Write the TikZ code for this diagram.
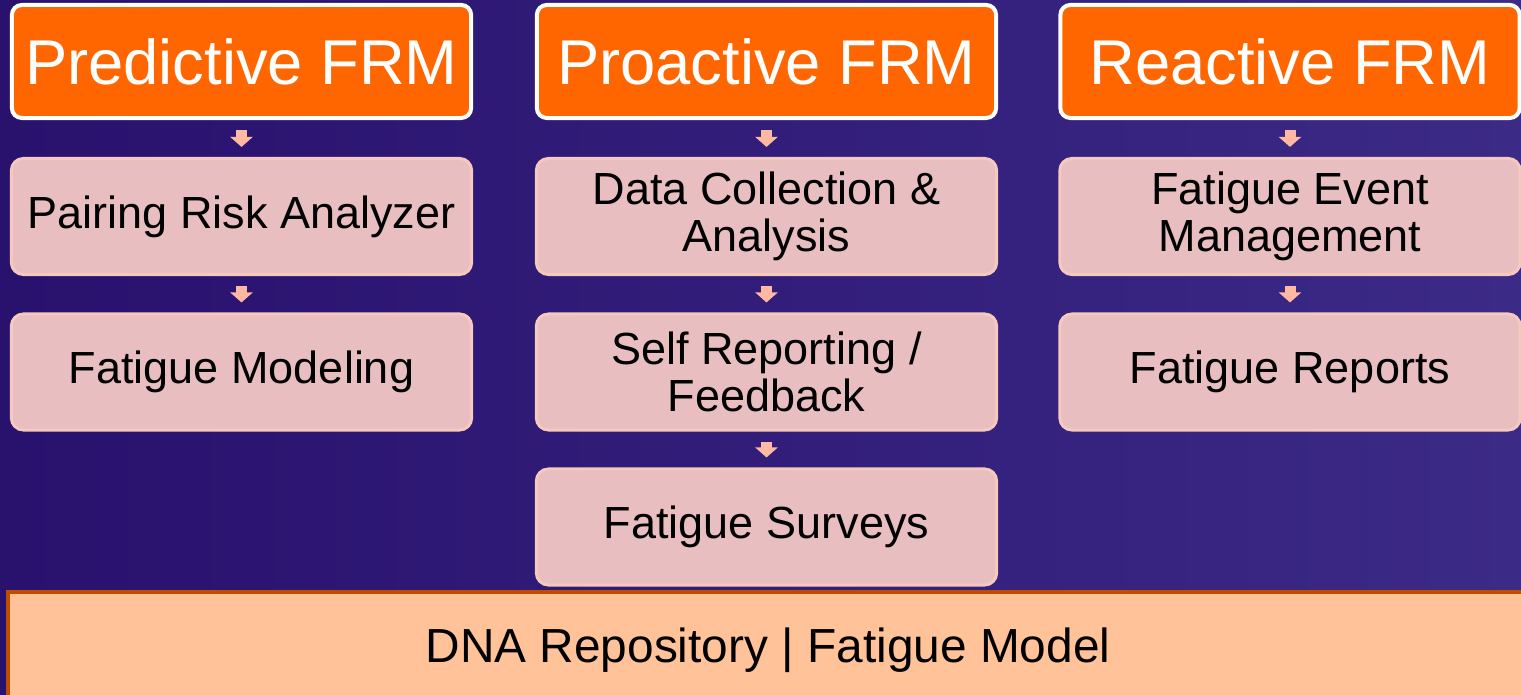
\documentclass[tikz,border=0pt]{standalone}
\usepackage{fontspec}
\setmainfont{Liberation Sans}
\usepackage{tikz}
\usetikzlibrary{calc, positioning, arrows.meta}
\definecolor{frmorange}{HTML}{FF6600}
\definecolor{boxpink}{HTML}{E8BEC0}
\definecolor{boxedge}{HTML}{F6C9BE}
\definecolor{arrowpink}{HTML}{FFB8A2}
\definecolor{basefill}{HTML}{FFC299}
\definecolor{baseedge}{HTML}{C04C00}
\definecolor{bgleft}{HTML}{29116E}
\definecolor{bgmid}{HTML}{2F1874}
\definecolor{bgright}{HTML}{3B2A86}

\begin{document}
\begin{tikzpicture}[x=0.01cm,y=-0.01cm,
  head/.style={draw=white, line width=0.04cm, fill=frmorange, rounded corners=0.1cm,
    minimum width=4.59cm, minimum height=1.13cm, text=white, font=\fontsize{18}{20}\selectfont},
  stage/.style={draw=boxedge, line width=0.03cm, fill=boxpink, rounded corners=0.12cm,
    minimum width=4.60cm, minimum height=1.16cm, align=center, font=\fontsize{12.8}{13.3}\selectfont},
  base/.style={draw=baseedge, line width=0.04cm, fill=basefill,
    minimum width=15.2cm, minimum height=1.15cm, font=\fontsize{13.6}{15}\selectfont},
  flow/.style={arrowpink, line width=0.11cm, shorten <=0.1cm, shorten >=0.1cm,
    -{Triangle[width=0.22cm,length=0.1cm]}}]
\useasboundingbox (0,0) rectangle (1521,695);
\clip (0,0) rectangle (1521,695);
\shade[left color=bgleft, middle color=bgmid, right color=bgright] (0,0) rectangle (1521,695);
%headers
\node[head] (pred) at (241.5,61.5) {Predictive FRM};
\node[head] (proa) at (766.5,61.5) {Proactive FRM};
\node[head] (reac) at (1290,61.5) {Reactive FRM};
%predictive
\node[stage] (pra) at (241.5,216.5) {Pairing Risk Analyzer};
\node[stage] (fmod) at (241.5,372) {Fatigue Modeling};
%proactive
\node[stage] (dca) at (766.5,216.5) {Data Collection \&\\Analysis};
\node[stage] (srf) at (766.5,372) {Self Reporting /\\Feedback};
\node[stage] (fsur) at (766.5,527) {Fatigue Surveys};
%reactive
\node[stage] (fem) at (1290,216.5) {Fatigue Event\\Management};
\node[stage] (frep) at (1290,372) {Fatigue Reports};
%repository
\node[base] (dna) at (768,650) {DNA Repository | Fatigue Model};
\draw[flow] (pred) -- (pra);
\draw[flow] (pra) -- (fmod);
\draw[flow] (proa) -- (dca);
\draw[flow] (dca) -- (srf);
\draw[flow] (srf) -- (fsur);
\draw[flow] (reac) -- (fem);
\draw[flow] (fem) -- (frep);
\end{tikzpicture}
\end{document}
